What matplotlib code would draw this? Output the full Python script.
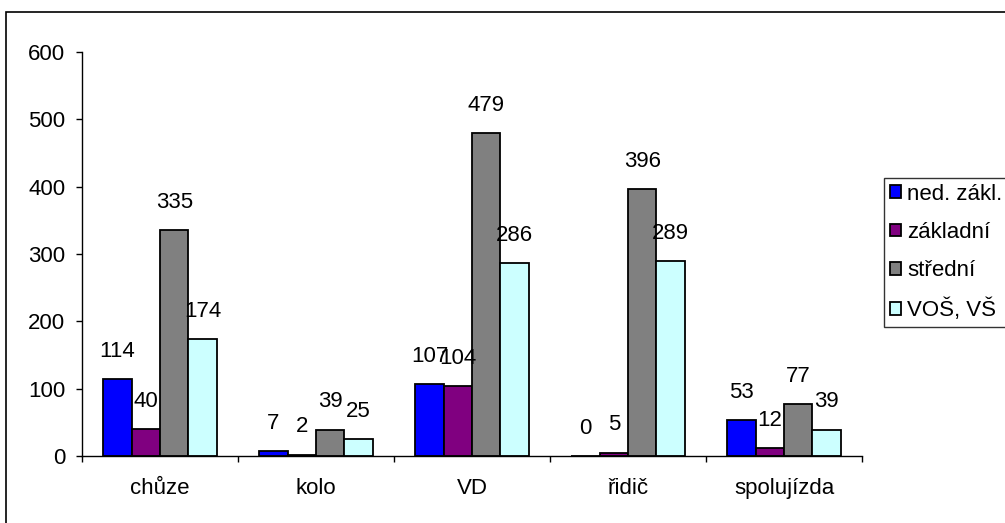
import matplotlib
matplotlib.use("Agg")
import matplotlib.pyplot as plt
import matplotlib.patches as mpatches
import numpy as np

plt.rcParams['font.family'] = ['Liberation Sans', 'DejaVu Sans']

categories = ["chůze", "kolo", "VD", "řidič", "spolujízda"]
series_names = ["ned. zákl.", "základní", "střední", "VOŠ, VŠ"]
ned_zakl = [114, 7, 107, 0, 53]
zakladni = [40, 2, 104, 5, 12]
stredni = [335, 39, 479, 396, 77]
vos_vs = [174, 25, 286, 289, 39]
y_ticks = [0, 100, 200, 300, 400, 500, 600]

series = [ned_zakl, zakladni, stredni, vos_vs]
colors = ["#0000FF", "#800080", "#808080", "#CCFFFF"]

FS = 16
W, H = 1005, 523
fig = plt.figure(figsize=(W / 100, H / 100), dpi=100)
ax = fig.add_axes([82 / W, 1 - 456 / H, 780 / W, 404 / H])

n = len(series)
bar_w = 4 / (4 + 1.5) / n
x = np.arange(len(categories)) + 0.5
for i, (vals, col, name) in enumerate(zip(series, colors, series_names)):
    pos = x + (i - (n - 1) / 2) * bar_w
    ax.bar(pos, vals, width=bar_w, color=col, edgecolor="black",
           linewidth=1.3, label=name, zorder=2)
    for xp, v in zip(pos, vals):
        ax.annotate(str(v), (xp, v), xytext=(0, 20), textcoords="offset points",
                    ha="center", va="center", fontsize=FS)

ax.set_xlim(0, len(categories))
ax.set_ylim(0, 600)
ax.set_yticks(y_ticks)
ax.set_xticks(np.arange(len(categories) + 1))
ax.set_xticklabels([])
ax.set_xticks(x, minor=True)
ax.set_xticklabels(categories, minor=True)
ax.tick_params(axis="x", which="minor", length=0, pad=15.5, labelsize=FS)
ax.tick_params(axis="x", which="major", direction="out", length=4, width=1)
ax.tick_params(axis="y", direction="out", length=4, width=1, pad=8, labelsize=FS)
for s in ["top", "right"]:
    ax.spines[s].set_visible(False)
for s in ["left", "bottom"]:
    ax.spines[s].set_linewidth(1)

leg = fig.legend(loc="upper left", bbox_to_anchor=(884 / W, 1 - 178 / H),
                 fontsize=FS, frameon=True, fancybox=False, edgecolor="black",
                 handlelength=0.5, handleheight=0.5, handletextpad=0.3,
                 labelspacing=0.78, borderpad=0.25, borderaxespad=0)
leg.get_frame().set_linewidth(1)

# outer chart frame
frame = mpatches.Rectangle((6 / W, -0.2), 2, 1 - 12 / H + 0.2,
                           transform=fig.transFigure, fill=False,
                           edgecolor="black", linewidth=1.2)
fig.patches.append(frame)

fig.savefig("out.png", dpi=100)
